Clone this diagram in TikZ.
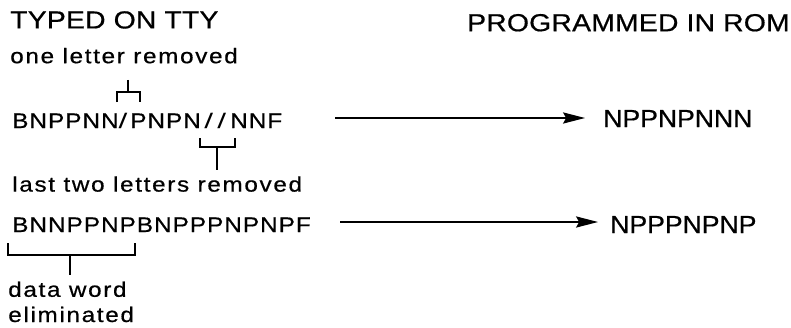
\documentclass[tikz,border=0pt]{standalone}
\usepackage{fontspec}
\setmainfont{Liberation Sans}
\newfontfamily\capfont[FakeStretch=1.15,LetterSpace=1,FakeBold=0.6]{Liberation Sans}
\newfontfamily\notefont[FakeStretch=1.15,LetterSpace=8,FakeBold=0.6]{Liberation Sans}
\newfontfamily\rowfont[FakeStretch=1.15,LetterSpace=5,FakeBold=0.6]{Liberation Sans}
\newfontfamily\slashfont[FakeStretch=1.5]{Liberation Sans}
\newfontfamily\romfont[FakeStretch=1.08,FakeBold=0.6]{Liberation Sans}
\usetikzlibrary{arrows.meta,calc}

\begin{document}
\begin{tikzpicture}[x=1cm,y=1cm,>={Stealth[length=5.5mm,width=2.8mm,inset=0.8mm]},
  every node/.style={inner sep=0pt,anchor=base west},
  head/.style={font=\capfont\fontsize{17.5}{20}\selectfont},
  note/.style={font=\notefont\fontsize{15}{18}\selectfont},
  word/.style={font=\rowfont\fontsize{15}{18}\selectfont},
  cut/.style={font=\slashfont\fontsize{15}{18}\selectfont},
  rom/.style={font=\romfont\fontsize{17.5}{20}\selectfont},
  brace/.style={line width=1.3pt},
  flow/.style={->,line width=1pt}]
\useasboundingbox (0,0) rectangle (19.775,-8.2);
% column heads
\node[head] (tty) at (0.25,-0.71) {TYPED ON TTY};
\node[head,anchor=base east] (rom) at (19.75,-0.78) {PROGRAMMED IN ROM};
% typed words and notes
\node[note] (one) at (0.25,-1.58) {one letter removed};
\node[word] (row1a) at (0.30,-3.20) {BNPPNN};
\node[cut] (row1b) at (2.96,-3.20) {/};
\node[word] (row1c) at (3.25,-3.20) {PNPN};
\node[cut] (row1d) at (5.10,-3.20) {/\kern3pt/};
\node[word] (row1e) at (5.75,-3.20) {NNF};
\node[note] (last) at (0.30,-4.79) {last two letters removed};
\node[word] (row2) at (0.30,-5.80) {BNNPPNPBNPPPNPNPF};
\node[note] (data) at (0.20,-7.42) {data word};
\node[note] (elim) at (0.20,-8.05) {eliminated};
% words in rom
\node[rom] (out1) at (15.075,-3.175) {NPPNPNNN};
\node[rom] (out2) at (15.25,-5.825) {NPPPNPNP};
% brackets
\draw[brace] (3.20,-2.00) -- (3.20,-2.30);
\draw[brace] (2.925,-2.55) |- (3.50,-2.30) -- (3.50,-2.55);
\draw[brace] (5.00,-3.45) |- (5.875,-3.675) -- (5.875,-3.45);
\draw[brace] (5.425,-3.675) -- (5.425,-4.25);
\draw[brace] (0.20,-6.075) |- (3.375,-6.375) -- (3.375,-6.075);
\draw[brace] (1.75,-6.375) -- (1.75,-6.875);
% arrows
\coordinate (a1) at (8.375,-2.95);
\coordinate (a2) at (8.50,-5.55);
\draw[flow] (a1) -- ([xshift=-0.45cm]a1 -| out1.west);
\draw[flow] (a2) -- ([xshift=-0.30cm]a2 -| out2.west);
\end{tikzpicture}
\end{document}
